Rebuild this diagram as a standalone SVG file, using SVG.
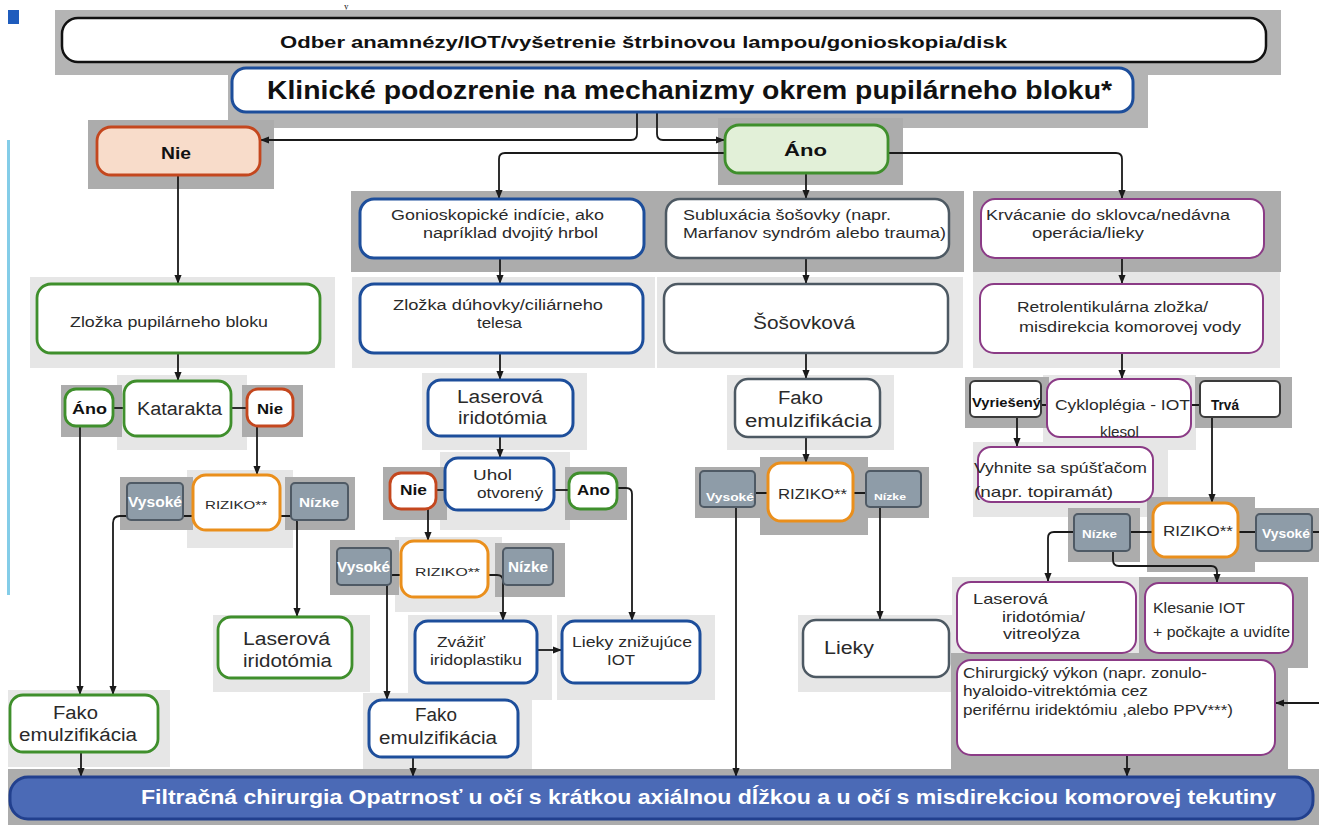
<svg xmlns="http://www.w3.org/2000/svg" width="1319" height="825" viewBox="0 0 1319 825">
<defs>
<style>
  text { font-family: "Liberation Sans", Arial, sans-serif; fill: #2a2a2a; }
  .b { font-weight: bold; fill: #111; }
  .w { font-weight: bold; fill: #fff; }
  .pd { fill: #acacac; }
  .pt { fill: #b4b4b4; }
  .pl { fill: #e6e6e6; }
  .box { fill: #fff; stroke-width: 2.5; }
  .blue { stroke: #1d4e9b; stroke-width: 3; }
  .green { stroke: #3f8f2c; stroke-width: 2.8; }
  .red { stroke: #c4471e; stroke-width: 2.8; }
  .orange { stroke: #ea8f1c; stroke-width: 3; }
  .purple { stroke: #8b3b86; stroke-width: 2; }
  .dgray { stroke: #4d5963; stroke-width: 2.5; }
  .plain { stroke: #3a3a3a; stroke-width: 2; }
  .gbox { fill: #8e9ca8; stroke: #4f5a65; stroke-width: 2; }
  .conn { fill: none; stroke: #1a1a1a; stroke-width: 1.8; }
</style>
<marker id="arr" viewBox="0 0 10 10" refX="9" refY="5" markerWidth="9" markerHeight="9" markerUnits="userSpaceOnUse" orient="auto">
  <path d="M0,1 L10,5 L0,9 z" fill="#1a1a1a"/>
</marker>
</defs>

<rect width="1319" height="825" fill="#fff"/>
<rect x="8" y="10" width="11" height="14" fill="#1f5cbd"/>
<rect x="7" y="140" width="3" height="455" fill="#84cde8"/>
<text x="344" y="9" style="font-family:'Liberation Serif', serif; fill:#111" font-size="9">y</text>

<!-- grey backdrop panels behind the boxes -->
<g id="backdrop">
  <rect class="pt" x="55" y="10" width="1226" height="65"/>
  <rect class="pt" x="228" y="62" width="920" height="66"/>
  <rect class="pd" x="88" y="120" width="186" height="69"/>
  <rect class="pd" x="718" y="118" width="185" height="67"/>
  <rect class="pd" x="351" y="191" width="613" height="81"/>
  <rect class="pd" x="973" y="191" width="308" height="81"/>
  <rect class="pl" x="30" y="277" width="305" height="91"/>
  <rect class="pl" x="352" y="277" width="303" height="91"/>
  <rect class="pl" x="657" y="277" width="306" height="91"/>
  <rect class="pl" x="973" y="272" width="307" height="96"/>
  <rect class="pl" x="117" y="375" width="130" height="75"/>
  <rect class="pd" x="61" y="385" width="61" height="52"/>
  <rect class="pd" x="242" y="385" width="61" height="52"/>
  <rect class="pl" x="187" y="470" width="106" height="78"/>
  <rect class="pd" x="120" y="477" width="73" height="53"/>
  <rect class="pd" x="285" y="477" width="70" height="53"/>
  <rect class="pl" x="213" y="615" width="157" height="77"/>
  <rect class="pl" x="8" y="690" width="162" height="77"/>
  <rect class="pl" x="422" y="373" width="165" height="77"/>
  <rect class="pl" x="440" y="452" width="130" height="78"/>
  <rect class="pd" x="383" y="467" width="64" height="53"/>
  <rect class="pd" x="565" y="467" width="62" height="53"/>
  <rect class="pl" x="395" y="537" width="107" height="75"/>
  <rect class="pd" x="330" y="540" width="69" height="55"/>
  <rect class="pd" x="495" y="543" width="70" height="54"/>
  <rect class="pl" x="408" y="615" width="144" height="85"/>
  <rect class="pl" x="557" y="615" width="158" height="85"/>
  <rect class="pl" x="363" y="693" width="169" height="77"/>
  <rect class="pl" x="727" y="375" width="167" height="75"/>
  <rect class="pd" x="760" y="457" width="108" height="78"/>
  <rect class="pd" x="695" y="467" width="69" height="51"/>
  <rect class="pd" x="860" y="467" width="69" height="51"/>
  <rect class="pl" x="798" y="615" width="158" height="77"/>
  <rect class="pl" x="1043" y="375" width="153" height="75"/>
  <rect class="pd" x="965" y="377" width="84" height="51"/>
  <rect class="pd" x="1195" y="377" width="97" height="51"/>
  <rect class="pl" x="973" y="442" width="195" height="75"/>
  <rect class="pd" x="1147" y="497" width="108" height="75"/>
  <rect class="pd" x="1068" y="508" width="72" height="54"/>
  <rect class="pd" x="1250" y="508" width="69" height="54"/>
  <rect class="pl" x="952" y="577" width="190" height="80"/>
  <rect class="pd" x="1139" y="577" width="169" height="91"/>
  <rect class="pd" x="951" y="653" width="337" height="120"/>
  <rect class="pd" x="8" y="769" width="1311" height="56"/>
</g>

<g id="connectors" class="conn">
  <path d="M637,113 V134 Q637,140 631,140 H261" marker-end="url(#arr)"/>
  <path d="M657,113 V134 Q657,140 663,140 H724" marker-end="url(#arr)"/>
  <path d="M725,153 H505 Q499,153 499,159 V198" marker-end="url(#arr)"/>
  <path d="M806,173 V198" marker-end="url(#arr)"/>
  <path d="M888,153 H1116 Q1122,153 1122,159 V198" marker-end="url(#arr)"/>
  <path d="M178,175 V283" marker-end="url(#arr)"/>
  <path d="M500,258 V283" marker-end="url(#arr)"/>
  <path d="M806,258 V283" marker-end="url(#arr)"/>
  <path d="M1122,258 V283" marker-end="url(#arr)"/>
  <path d="M178,353 V380" marker-end="url(#arr)"/>
  <path d="M113,408 H124"/>
  <path d="M231,408 H247"/>
  <path d="M80,426 V694" marker-end="url(#arr)"/>
  <path d="M257,426 V474" marker-end="url(#arr)"/>
  <path d="M193,516 H120 Q113,516 113,523 V694" marker-end="url(#arr)"/>
  <path d="M280,516 H291 Q297,516 297,522 V616" marker-end="url(#arr)"/>
  <path d="M500,353 V379" marker-end="url(#arr)"/>
  <path d="M500,436 V457" marker-end="url(#arr)"/>
  <path d="M436,490 H445"/>
  <path d="M554,490 H569"/>
  <path d="M617,488 H626 Q632,488 632,494 V620" marker-end="url(#arr)"/>
  <path d="M428,509 V540" marker-end="url(#arr)"/>
  <path d="M401,575 H393 Q387,575 387,581 V699" marker-end="url(#arr)"/>
  <path d="M488,575 H497 Q503,575 503,581 V620" marker-end="url(#arr)"/>
  <path d="M537,650 H561" marker-end="url(#arr)"/>
  <path d="M413,757 V776" marker-end="url(#arr)"/>
  <path d="M81,752 V776" marker-end="url(#arr)"/>
  <path d="M806,353 V378" marker-end="url(#arr)"/>
  <path d="M806,437 V462" marker-end="url(#arr)"/>
  <path d="M768,493 H742 Q736,493 736,499 V776" marker-end="url(#arr)"/>
  <path d="M853,493 H874 Q880,493 880,499 V619" marker-end="url(#arr)"/>
  <path d="M1122,353 V378" marker-end="url(#arr)"/>
  <path d="M1047,405 H1023 Q1017,405 1017,411 V446" marker-end="url(#arr)"/>
  <path d="M1191,405 H1206 Q1212,405 1212,411 V502" marker-end="url(#arr)"/>
  <path d="M1153,532 H1054 Q1048,532 1048,538 V581" marker-end="url(#arr)"/>
  <path d="M1113,551 V560 Q1113,566 1119,566 H1211 Q1217,566 1217,572 V582" marker-end="url(#arr)"/>
  <path d="M1238,532 H1330 V703 H1276" marker-end="url(#arr)"/>
  <path d="M1127,755 V776" marker-end="url(#arr)"/>
</g>

<g id="odber">
  <rect class="box" x="62" y="18" width="1204" height="44" rx="16" stroke="#111" stroke-width="3"/>
  <text class="b" x="280" y="48" font-size="17" textLength="727" lengthAdjust="spacingAndGlyphs">Odber anamnézy/IOT/vyšetrenie štrbinovou lampou/gonioskopia/disk</text>
</g>
<g id="klinicke">
  <rect class="box blue" x="232" y="68" width="901" height="44" rx="14"/>
  <text class="b" x="267" y="99" font-size="26" textLength="845" lengthAdjust="spacingAndGlyphs">Klinické podozrenie na mechanizmy okrem pupilárneho bloku*</text>
</g>
<g id="nie">
  <rect class="box red" x="97" y="127" width="163" height="48" rx="14" style="fill:#f8dcca"/>
  <text class="b" x="161" y="159" font-size="16" textLength="30" lengthAdjust="spacingAndGlyphs">Nie</text>
</g>
<g id="ano">
  <rect class="box green" x="725" y="125" width="163" height="48" rx="14" style="fill:#e2f0d8"/>
  <text class="b" x="784" y="156" font-size="17" textLength="43" lengthAdjust="spacingAndGlyphs">Áno</text>
</g>
<g id="gonio">
  <rect class="box blue" x="360" y="199" width="284" height="59" rx="14"/>
  <text x="391" y="220" font-size="14" textLength="213" lengthAdjust="spacingAndGlyphs">Gonioskopické indície, ako</text>
  <text x="423" y="238" font-size="14" textLength="175" lengthAdjust="spacingAndGlyphs">napríklad dvojitý hrbol</text>
</g>
<g id="subluxacia">
  <rect class="box dgray" x="666" y="199" width="283" height="59" rx="14"/>
  <text x="683" y="220" font-size="14" textLength="208" lengthAdjust="spacingAndGlyphs">Subluxácia šošovky (napr.</text>
  <text x="683" y="238" font-size="14" textLength="263" lengthAdjust="spacingAndGlyphs">Marfanov syndróm alebo trauma)</text>
</g>
<g id="krvacanie">
  <rect class="box purple" x="981" y="199" width="283" height="59" rx="14"/>
  <text x="986" y="220" font-size="14" textLength="244" lengthAdjust="spacingAndGlyphs">Krvácanie do sklovca/nedávna</text>
  <text x="1032" y="238" font-size="14" textLength="112" lengthAdjust="spacingAndGlyphs">operácia/lieky</text>
</g>
<g id="zlozka-pupil">
  <rect class="box green" x="37" y="284" width="283" height="69" rx="14"/>
  <text x="70" y="327" font-size="14" textLength="198" lengthAdjust="spacingAndGlyphs">Zložka pupilárneho bloku</text>
</g>
<g id="zlozka-duhovky">
  <rect class="box blue" x="360" y="284" width="283" height="69" rx="14"/>
  <text x="393" y="310" font-size="14" textLength="210" lengthAdjust="spacingAndGlyphs">Zložka dúhovky/ciliárneho</text>
  <text x="477" y="328" font-size="14" textLength="45" lengthAdjust="spacingAndGlyphs">telesa</text>
</g>
<g id="sosovkova">
  <rect class="box dgray" x="664" y="284" width="284" height="69" rx="14"/>
  <text x="753" y="329" font-size="18" textLength="102" lengthAdjust="spacingAndGlyphs">Šošovková</text>
</g>
<g id="retrolentikularna">
  <rect class="box purple" x="980" y="284" width="283" height="69" rx="14"/>
  <text x="1017" y="312" font-size="14" textLength="191" lengthAdjust="spacingAndGlyphs">Retrolentikulárna zložka/</text>
  <text x="1019" y="332" font-size="14" textLength="222" lengthAdjust="spacingAndGlyphs">misdirekcia komorovej vody</text>
</g>

<g id="katarakta">
  <rect class="box green" x="124" y="381" width="107" height="55" rx="13"/>
  <text x="137" y="415" font-size="18" textLength="85" lengthAdjust="spacingAndGlyphs">Katarakta</text>
</g>
<g id="katarakta-ano">
  <rect class="box green" x="65" y="389" width="48" height="37" rx="11"/>
  <text class="b" x="72" y="414" font-size="15" textLength="35" lengthAdjust="spacingAndGlyphs">Áno</text>
</g>
<g id="katarakta-nie">
  <rect class="box red" x="247" y="389" width="46" height="37" rx="11"/>
  <text class="b" x="257" y="414" font-size="15" textLength="26" lengthAdjust="spacingAndGlyphs">Nie</text>
</g>
<g id="riziko-1">
  <rect class="box orange" x="193" y="475" width="87" height="55" rx="13"/>
  <text x="205" y="509" font-size="11" textLength="62" lengthAdjust="spacingAndGlyphs">RIZIKO**</text>
</g>
<g id="vysoke-1">
  <rect class="gbox" x="127" y="483" width="56" height="37" rx="4"/>
  <text class="w" x="128" y="507" font-size="14" textLength="54" lengthAdjust="spacingAndGlyphs">Vysoké</text>
</g>
<g id="nizke-1">
  <rect class="gbox" x="291" y="483" width="57" height="37" rx="4"/>
  <text class="w" x="299" y="507" font-size="13" textLength="40" lengthAdjust="spacingAndGlyphs">Nízke</text>
</g>
<g id="laserova-1">
  <rect class="box green" x="218" y="617" width="134" height="61" rx="13"/>
  <text x="243" y="645" font-size="18" textLength="87" lengthAdjust="spacingAndGlyphs">Laserová</text>
  <text x="243" y="667" font-size="18" textLength="89" lengthAdjust="spacingAndGlyphs">iridotómia</text>
</g>
<g id="fako-1">
  <rect class="box green" x="10" y="695" width="148" height="57" rx="13"/>
  <text x="53" y="719" font-size="18" textLength="45" lengthAdjust="spacingAndGlyphs">Fako</text>
  <text x="19" y="741" font-size="18" textLength="118" lengthAdjust="spacingAndGlyphs">emulzifikácia</text>
</g>

<g id="laserova-2">
  <rect class="box blue" x="428" y="380" width="145" height="56" rx="13"/>
  <text x="457" y="403" font-size="18" textLength="86" lengthAdjust="spacingAndGlyphs">Laserová</text>
  <text x="458" y="424" font-size="18" textLength="89" lengthAdjust="spacingAndGlyphs">iridotómia</text>
</g>
<g id="uhol">
  <rect class="box blue" x="445" y="458" width="109" height="52" rx="13"/>
  <text x="473" y="480" font-size="15" textLength="39" lengthAdjust="spacingAndGlyphs">Uhol</text>
  <text x="477" y="498" font-size="15" textLength="66" lengthAdjust="spacingAndGlyphs">otvorený</text>
</g>
<g id="uhol-nie">
  <rect class="box red" x="390" y="473" width="46" height="36" rx="11"/>
  <text class="b" x="400" y="495" font-size="15" textLength="27" lengthAdjust="spacingAndGlyphs">Nie</text>
</g>
<g id="uhol-ano">
  <rect class="box green" x="569" y="473" width="48" height="36" rx="11"/>
  <text class="b" x="577" y="495" font-size="15" textLength="33" lengthAdjust="spacingAndGlyphs">Ano</text>
</g>
<g id="riziko-2">
  <rect class="box orange" x="401" y="541" width="87" height="56" rx="13"/>
  <text x="415" y="576" font-size="11" textLength="65" lengthAdjust="spacingAndGlyphs">RIZIKO**</text>
</g>
<g id="vysoke-2">
  <rect class="gbox" x="337" y="548" width="54" height="37" rx="4"/>
  <text class="w" x="337" y="572" font-size="14" textLength="53" lengthAdjust="spacingAndGlyphs">Vysoké</text>
</g>
<g id="nizke-2">
  <rect class="gbox" x="503" y="548" width="50" height="37" rx="4"/>
  <text class="w" x="508" y="572" font-size="14" textLength="40" lengthAdjust="spacingAndGlyphs">Nízke</text>
</g>
<g id="zvazit">
  <rect class="box blue" x="415" y="621" width="122" height="62" rx="13"/>
  <text x="437" y="647" font-size="15" textLength="48" lengthAdjust="spacingAndGlyphs">Zvážiť</text>
  <text x="430" y="665" font-size="15" textLength="92" lengthAdjust="spacingAndGlyphs">iridoplastiku</text>
</g>
<g id="lieky-iot">
  <rect class="box blue" x="562" y="621" width="138" height="62" rx="13"/>
  <text x="572" y="647" font-size="15" textLength="120" lengthAdjust="spacingAndGlyphs">Lieky znižujúce</text>
  <text x="607" y="665" font-size="15" textLength="28" lengthAdjust="spacingAndGlyphs">IOT</text>
</g>
<g id="fako-2">
  <rect class="box blue" x="369" y="700" width="149" height="57" rx="13"/>
  <text x="415" y="721" font-size="18" textLength="42" lengthAdjust="spacingAndGlyphs">Fako</text>
  <text x="379" y="744" font-size="18" textLength="118" lengthAdjust="spacingAndGlyphs">emulzifikácia</text>
</g>

<g id="fako-3">
  <rect class="box dgray" x="735" y="379" width="145" height="58" rx="13"/>
  <text x="778" y="404" font-size="18" textLength="45" lengthAdjust="spacingAndGlyphs">Fako</text>
  <text x="745" y="427" font-size="18" textLength="127" lengthAdjust="spacingAndGlyphs">emulzifikácia</text>
</g>
<g id="riziko-3">
  <rect class="box orange" x="768" y="463" width="85" height="58" rx="13"/>
  <text x="778" y="499" font-size="15" textLength="69" lengthAdjust="spacingAndGlyphs">RIZIKO**</text>
</g>
<g id="vysoke-3">
  <rect class="gbox" x="700" y="471" width="55" height="36" rx="4"/>
  <text class="w" x="706" y="501" font-size="11" textLength="48" lengthAdjust="spacingAndGlyphs">Vysoké</text>
</g>
<g id="nizke-3">
  <rect class="gbox" x="866" y="471" width="55" height="36" rx="4"/>
  <text class="w" x="874" y="500" font-size="9" textLength="32" lengthAdjust="spacingAndGlyphs">Nízke</text>
</g>
<g id="lieky">
  <rect class="box dgray" x="803" y="620" width="146" height="57" rx="13"/>
  <text x="824" y="654" font-size="18" textLength="50" lengthAdjust="spacingAndGlyphs">Lieky</text>
</g>

<g id="cykloplegia">
  <rect class="box purple" x="1047" y="379" width="144" height="58" rx="13"/>
  <text x="1055" y="410" font-size="15" textLength="135" lengthAdjust="spacingAndGlyphs">Cykloplégia - IOT</text>
  <text x="1100" y="437" font-size="15" textLength="39" lengthAdjust="spacingAndGlyphs">klesol</text>
</g>
<g id="vyrieseny">
  <rect class="box plain" x="970" y="381" width="71" height="36" rx="5"/>
  <text class="b" x="972" y="407" font-size="12" textLength="69" lengthAdjust="spacingAndGlyphs">Vyriešený</text>
</g>
<g id="trva">
  <rect class="box plain" x="1200" y="381" width="80" height="36" rx="5"/>
  <text class="b" x="1211" y="410" font-size="15" textLength="28" lengthAdjust="spacingAndGlyphs">Trvá</text>
</g>
<g id="vyhnite">
  <rect class="box purple" x="978" y="447" width="175" height="55" rx="13"/>
  <text x="974" y="473" font-size="15" textLength="173" lengthAdjust="spacingAndGlyphs">Vyhnite sa spúšťačom</text>
  <text x="974" y="497" font-size="15" textLength="139" lengthAdjust="spacingAndGlyphs">(napr. topiramát)</text>
</g>
<g id="riziko-4">
  <rect class="box orange" x="1153" y="503" width="85" height="54" rx="13"/>
  <text x="1163" y="536" font-size="15" textLength="70" lengthAdjust="spacingAndGlyphs">RIZIKO**</text>
</g>
<g id="nizke-4">
  <rect class="gbox" x="1074" y="514" width="56" height="37" rx="4"/>
  <text class="w" x="1082" y="538" font-size="10" textLength="35" lengthAdjust="spacingAndGlyphs">Nízke</text>
</g>
<g id="vysoke-4">
  <rect class="gbox" x="1256" y="514" width="56" height="37" rx="4"/>
  <text class="w" x="1262" y="538" font-size="12" textLength="48" lengthAdjust="spacingAndGlyphs">Vysoké</text>
</g>
<g id="laserova-3">
  <rect class="box purple" x="957" y="582" width="179" height="71" rx="14"/>
  <text x="973" y="604" font-size="15" textLength="75" lengthAdjust="spacingAndGlyphs">Laserová</text>
  <text x="1002" y="622" font-size="15" textLength="83" lengthAdjust="spacingAndGlyphs">iridotómia/</text>
  <text x="1003" y="639" font-size="15" textLength="77" lengthAdjust="spacingAndGlyphs">vitreolýza</text>
</g>
<g id="klesanie">
  <rect class="box purple" x="1145" y="583" width="148" height="70" rx="14"/>
  <text x="1153" y="613" font-size="14" textLength="92" lengthAdjust="spacingAndGlyphs">Klesanie IOT</text>
  <text x="1153" y="637" font-size="14" textLength="137" lengthAdjust="spacingAndGlyphs">+ počkajte  a uvidíte</text>
</g>
<g id="chirurgicky">
  <rect class="box purple" x="957" y="660" width="318" height="95" rx="14"/>
  <text x="963" y="678" font-size="15" textLength="244" lengthAdjust="spacingAndGlyphs">Chirurgický výkon (napr. zonulo-</text>
  <text x="963" y="696" font-size="15" textLength="185" lengthAdjust="spacingAndGlyphs">hyaloido-vitrektómia cez</text>
  <text x="963" y="715" font-size="15" textLength="270" lengthAdjust="spacingAndGlyphs">periférnu iridektómiu ,alebo PPV***)</text>
</g>

<g id="filtracna">
  <rect x="10" y="777" width="1303" height="42" rx="18" fill="#4b6ab6" stroke="#22408e" stroke-width="3"/>
  <text class="w" x="141" y="804" font-size="20" textLength="1135" lengthAdjust="spacingAndGlyphs">Filtračná chirurgia Opatrnosť u očí s krátkou axiálnou dĺžkou a u očí s misdirekciou komorovej tekutiny</text>
</g>
</svg>
